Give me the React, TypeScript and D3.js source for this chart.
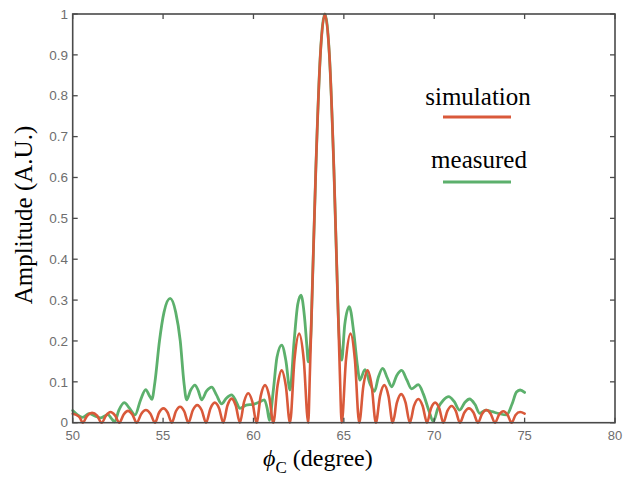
import React from "react";
import * as d3 from "d3";

// ---- data ----
const simX = [
  50, 50.2, 50.4, 50.55, 50.8, 51.07, 51.35, 51.6, 51.85, 52.09, 52.34, 52.58,
  52.82, 53.06, 53.3, 53.54, 53.8, 54.05, 54.3, 54.55, 54.78, 55.02, 55.25, 55.48,
  55.71, 55.94, 56.17, 56.4, 56.65, 56.89, 57.13, 57.38, 57.62, 57.86, 58.1, 58.33,
  58.56, 58.79, 59.02, 59.25, 59.48, 59.71, 59.94, 60.17, 60.4, 60.64, 60.87, 61.1,
  61.33, 61.56, 61.79, 62.02, 62.27, 62.53, 62.78, 63.03,
  63.12, 63.25, 63.45, 63.7, 63.95, 64.2, 64.45, 64.65, 64.78, 64.88,
  65.12, 65.37, 65.61, 65.85, 66.08, 66.31, 66.54, 66.77, 67.0, 67.24, 67.47, 67.7,
  67.94, 68.17, 68.41, 68.65, 68.88, 69.12, 69.36, 69.6, 69.82, 70.05, 70.28, 70.5,
  70.73, 70.96, 71.19, 71.42, 71.67, 71.92, 72.17, 72.42, 72.65, 72.89, 73.12, 73.36,
  73.59, 73.82, 74.05, 74.28, 74.5, 74.75, 75,
];
const simY = [
  0.022, 0.019, 0.012, 0, 0.017, 0.024, 0.017, 0, 0.018, 0.026, 0.018, 0,
  0.02, 0.029, 0.02, 0, 0.022, 0.031, 0.022, 0, 0.025, 0.035, 0.025, 0,
  0.028, 0.039, 0.028, 0, 0.031, 0.043, 0.031, 0, 0.035, 0.049, 0.035, 0,
  0.042, 0.059, 0.042, 0, 0.051, 0.072, 0.051, 0, 0.065, 0.092, 0.065, 0,
  0.09, 0.128, 0.09, 0, 0.155, 0.218, 0.155, 0,
  0.12, 0.32, 0.62, 0.9, 1.0, 0.9, 0.62, 0.32, 0.12, 0,
  0.155, 0.218, 0.155, 0, 0.09, 0.128, 0.09, 0, 0.065, 0.092, 0.065, 0,
  0.05, 0.07, 0.05, 0, 0.041, 0.058, 0.041, 0, 0.035, 0.049, 0.035, 0,
  0.029, 0.041, 0.029, 0, 0.025, 0.035, 0.025, 0, 0.022, 0.031, 0.022, 0,
  0.02, 0.028, 0.02, 0, 0.019, 0.026, 0.022,
];

const measX = [
  50, 50.25, 50.55, 50.9, 51.25, 51.55, 51.95, 52.15, 52.32, 52.55, 52.85, 53.15,
  53.45, 53.75, 54.04, 54.22, 54.38, 54.55, 54.8, 55.05, 55.39, 55.7, 55.95, 56.15,
  56.3, 56.53, 56.76, 56.95, 57.13, 57.4, 57.69, 57.95, 58.24, 58.5, 58.79, 59.02,
  59.25, 59.6, 60.0, 60.3, 60.6, 60.76, 60.88, 61.1, 61.3, 61.56, 61.8, 62.02,
  62.25, 62.45, 62.63, 62.82, 62.95, 63.03, 63.18, 63.25, 63.45, 63.7, 63.95, 64.2,
  64.45, 64.65, 64.73, 64.88, 65.05, 65.3, 65.55, 65.75, 65.88, 66.17, 66.45, 66.7,
  66.9, 67.15, 67.4, 67.65, 67.92, 68.2, 68.48, 68.75, 69.12, 69.4, 69.7, 69.95,
  70.2, 70.5, 70.8, 71.1, 71.4, 71.7, 71.95, 72.25, 72.52, 72.85, 73.2, 73.6,
  74.0, 74.3, 74.55, 74.75, 75.0,
];
const measY = [
  0.03, 0.02, 0.013, 0.022, 0.016, 0.012, 0.02, 0.01, 0.002, 0.03, 0.049, 0.035,
  0.019, 0.055, 0.081, 0.068, 0.057, 0.1, 0.2, 0.27, 0.304, 0.27, 0.2, 0.1,
  0.056, 0.08, 0.092, 0.078, 0.056, 0.077, 0.087, 0.068, 0.046, 0.06, 0.068, 0.054,
  0.035, 0.043, 0.045, 0.05, 0.056, 0.035, 0.006, 0.08, 0.16, 0.19, 0.15, 0.08,
  0.2, 0.29, 0.312, 0.26, 0.19, 0.149, 0.22, 0.32, 0.62, 0.9, 1.0, 0.9,
  0.62, 0.32, 0.22, 0.153, 0.24, 0.284, 0.22, 0.14, 0.104, 0.13, 0.095, 0.077,
  0.11, 0.133, 0.11, 0.088, 0.115, 0.128, 0.105, 0.083, 0.093, 0.07, 0.03, 0.003,
  0.035, 0.055, 0.064, 0.052, 0.031, 0.05, 0.058, 0.045, 0.023, 0.031, 0.027, 0.022,
  0.019, 0.045, 0.075, 0.08, 0.074,
];

const xTicks = [50, 55, 60, 65, 70, 75, 80];
const yTicks = [0, 0.1, 0.2, 0.3, 0.4, 0.5, 0.6, 0.7, 0.8, 0.9, 1];
const yTickLabels = ["0", "0.1", "0.2", "0.3", "0.4", "0.5", "0.6", "0.7", "0.8", "0.9", "1"];
const seriesNames = ["simulation", "measured"];

const W = 623;
const H = 477;
const RED = "#d9593a";
const GREEN = "#5cb06c";
const AXIS = "#4a4a4a";
const SERIF = "'Liberation Serif', 'Times New Roman', serif";
const SANS = "'Liberation Sans', Arial, Helvetica, sans-serif";

export default function App() {
  const x = d3.scaleLinear().domain([50, 80]).range([72.7, 615]);
  const y = d3.scaleLinear().domain([0, 1]).range([422.7, 14]);

  const line = d3
    .line<[number, number]>()
    .x((d) => x(d[0]))
    .y((d) => y(d[1]))
    .curve(d3.curveMonotoneX);

  const simPts = simX.map((v, i) => [v, simY[i]] as [number, number]);
  const measPts = measX.map((v, i) => [v, measY[i]] as [number, number]);

  const [x0, x1] = x.range();
  const [y0, y1] = y.range();
  const tl = 5;

  return (
    <svg
      width={W}
      height={H}
      style={{ position: "absolute", left: 0, top: 0, background: "#fff" }}
    >
      <rect x={0} y={0} width={W} height={H} fill="#fff" />
      <g fill="none" strokeLinejoin="round" strokeLinecap="round">
        <path d={line(measPts) || ""} stroke={GREEN} strokeWidth={2.8} />
        <path d={line(simPts) || ""} stroke={RED} strokeWidth={2.6} />
      </g>

      {/* box */}
      <rect
        x={x0}
        y={y1}
        width={x1 - x0}
        height={y0 - y1}
        fill="none"
        stroke={AXIS}
        strokeWidth={1.6}
      />
      {/* x ticks */}
      {xTicks.map((t) => (
        <g key={"xt" + t}>
          <line x1={x(t)} x2={x(t)} y1={y0} y2={y0 - tl} stroke={AXIS} strokeWidth={1.3} />
          <line x1={x(t)} x2={x(t)} y1={y1} y2={y1 + tl} stroke={AXIS} strokeWidth={1.3} />
          <text
            x={x(t)}
            y={440}
            textAnchor="middle"
            fontFamily={SANS}
            fontSize={13}
            fill="#6e6e6e"
          >
            {t}
          </text>
        </g>
      ))}
      {/* y ticks */}
      {yTicks.map((t, i) => (
        <g key={"yt" + t}>
          <line x1={x0} x2={x0 + tl} y1={y(t)} y2={y(t)} stroke={AXIS} strokeWidth={1.3} />
          <line x1={x1} x2={x1 - tl} y1={y(t)} y2={y(t)} stroke={AXIS} strokeWidth={1.3} />
          <text
            x={68}
            y={y(t)}
            dy="0.35em"
            textAnchor="end"
            fontFamily={SANS}
            fontSize={13.5}
            fill="#6e6e6e"
          >
            {yTickLabels[i]}
          </text>
        </g>
      ))}

      {/* axis titles */}
      <text
        transform="translate(32,215) rotate(-90)"
        textAnchor="middle"
        fontFamily={SERIF}
        fontSize={25}
        fill="#000"
      >
        Amplitude (A.U.)
      </text>
      <text x={263} y={466} fontFamily={SERIF} fontSize={24} fill="#000">
        <tspan fontStyle="italic">ϕ</tspan>
        <tspan fontSize={17} dy={7}>C</tspan>
        <tspan dy={-7}> (degree)</tspan>
      </text>

      {/* legend */}
      <text x={478} y={105} textAnchor="middle" fontFamily={SERIF} fontSize={25} fill="#000">
        {seriesNames[0]}
      </text>
      <line x1={443} x2={511} y1={117} y2={117} stroke={RED} strokeWidth={3} />
      <text x={479} y={168} textAnchor="middle" fontFamily={SERIF} fontSize={25} fill="#000">
        {seriesNames[1]}
      </text>
      <line x1={443} x2={511} y1={182} y2={182} stroke={GREEN} strokeWidth={3} />
    </svg>
  );
}
